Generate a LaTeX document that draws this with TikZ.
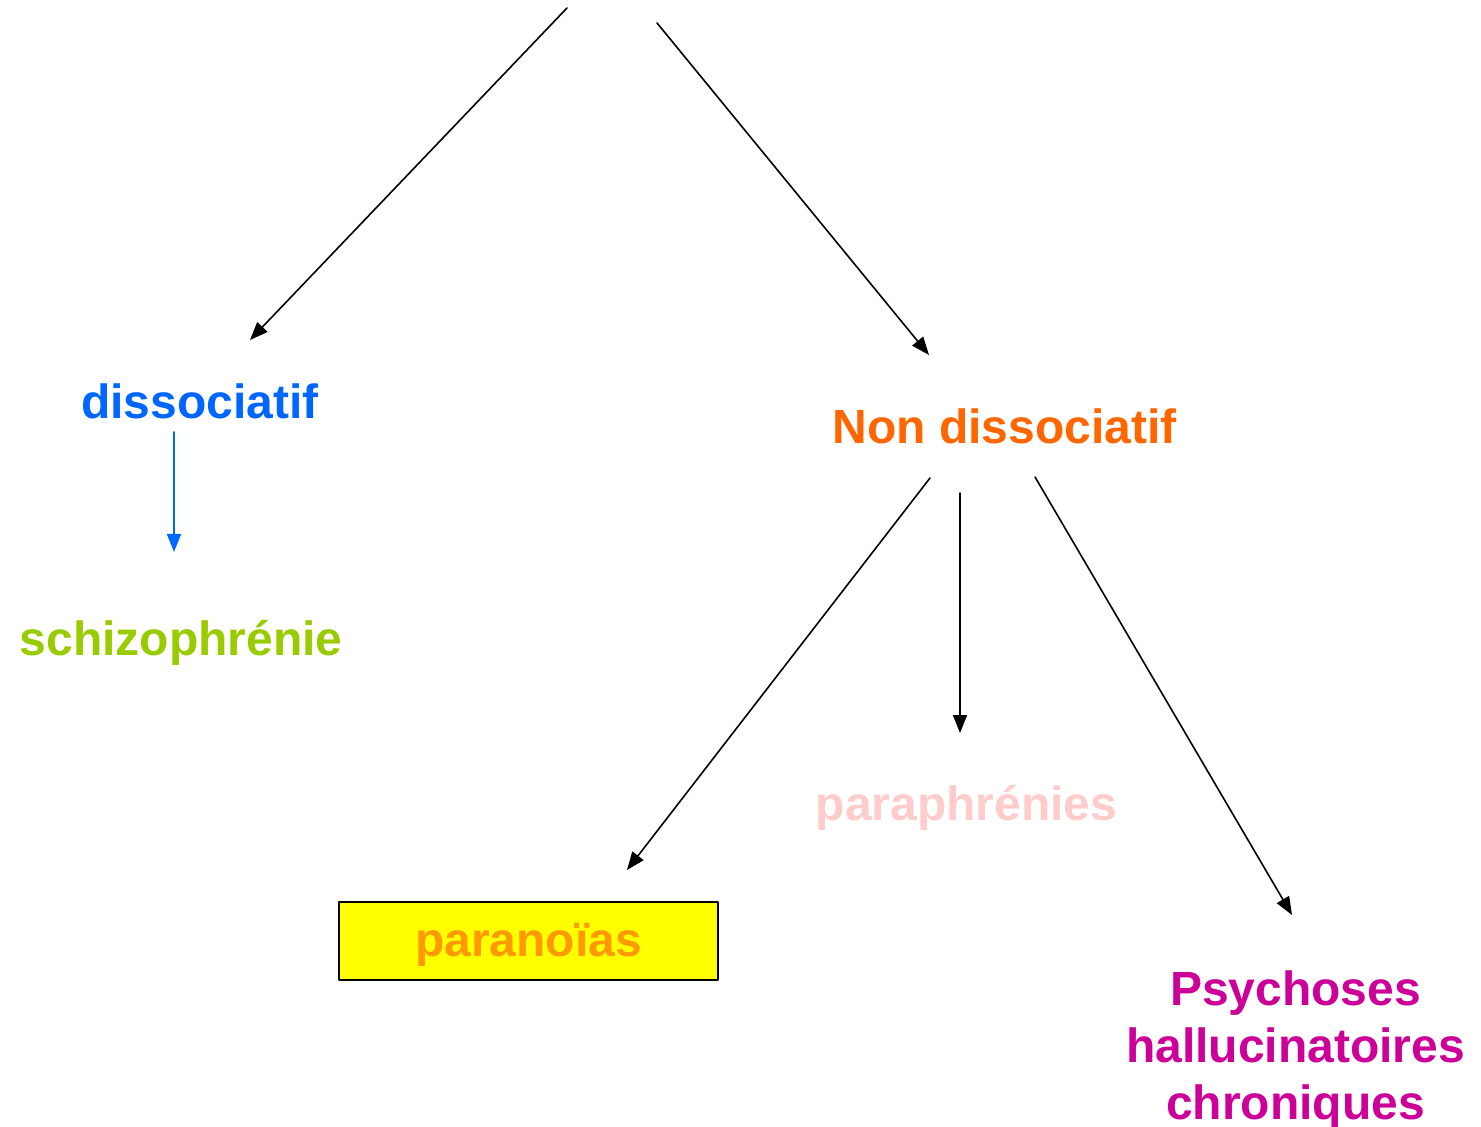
\documentclass[tikz,border=0pt]{standalone}
\usepackage{fontspec}
\setmainfont{Liberation Sans}
\usetikzlibrary{arrows.meta}
\definecolor{disblue}{HTML}{0066FF}
\definecolor{nonorange}{HTML}{FF6600}
\definecolor{schgreen}{HTML}{99CC00}
\definecolor{parorange}{HTML}{FF9900}
\definecolor{paraphpink}{HTML}{FFCCCC}
\definecolor{psymagenta}{HTML}{CC0099}
\definecolor{boxyellow}{HTML}{FFFF00}

\begin{document}
\begin{tikzpicture}[line cap=round,line join=round,>={Triangle[length=9pt,width=7pt]},x=0.5pt,y=-0.5pt]
			\useasboundingbox (0,0) rectangle (1481,1127);
			\tikzset{cat/.style={inner sep=0pt,anchor=base,font=\fontsize{24}{28.5}\selectfont\bfseries},
				link/.style={->,line width=0.8pt}}
			% categories
			\node[cat,text=disblue] (dis) at (200,419) {dissociatif};
			\node[cat,text=nonorange] (nondis) at (1004.5,444) {Non dissociatif};
			\node[cat,text=schgreen] (schizo) at (181,655) {schizophrénie};
			\node[cat,text=paraphpink] (paraph) at (966.5,820) {paraphrénies};
			\node[cat,text=psymagenta,align=center] (psy) at (1295.5,1119) {Psychoses\\hallucinatoires\\chroniques};
			\node[draw,line width=1pt,fill=boxyellow,minimum width=189.5pt,minimum height=39pt,inner sep=0pt,
				text height=16pt,text depth=0pt,font=\fontsize{24}{28.5}\selectfont\bfseries,text=parorange] (parano) at (528.5,940.5) {paranoïas};
			% arrow ends
			\coordinate (top-l) at (567,8);
			\coordinate (top-r) at (657,23);
			\coordinate (dis-in) at (250,340);
			\coordinate (nondis-in) at (929,355);
			\coordinate (dis-out) at (174,432);
			\coordinate (schizo-in) at (174,552);
			\coordinate (nd-l) at (930,478);
			\coordinate (nd-m) at (960,493);
			\coordinate (nd-r) at (1035,477);
			\coordinate (parano-in) at (627,870);
			\coordinate (paraph-in) at (960,733);
			\coordinate (psy-in) at (1292,915);
			% arrows
			\draw [link] (top-l) -- (dis-in);
			\draw [link] (top-r) -- (nondis-in);
			\draw [link,color=disblue] (dis-out) -- (schizo-in);
			\draw [link] (nd-l) -- (parano-in);
			\draw [link] (nd-m) -- (paraph-in);
			\draw [link] (nd-r) -- (psy-in);
		\end{tikzpicture}
\end{document}
